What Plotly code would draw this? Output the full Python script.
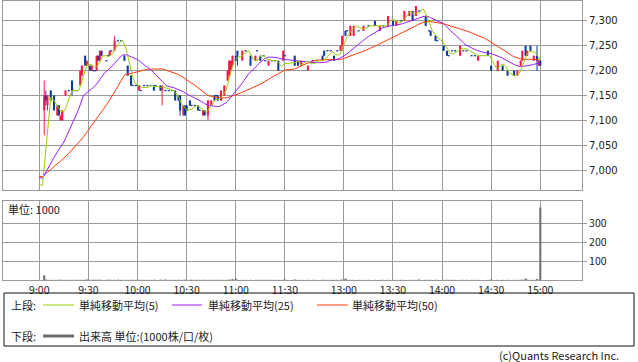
import plotly.graph_objects as go
import pandas as pd

# ---------------- data ----------------
times = [
    "09:03", "09:04", "09:05", "09:07", "09:09", "09:11", "09:12", "09:13", "09:14", "09:16",
    "09:18", "09:20", "09:21", "09:23", "09:25", "09:26", "09:28", "09:29", "09:31", "09:32",
    "09:33", "09:34", "09:35", "09:36", "09:37", "09:38", "09:41", "09:42", "09:43", "09:44",
    "09:46", "09:48", "09:50", "09:52", "09:54", "09:56", "09:57", "09:59", "10:01", "10:02",
    "10:04", "10:06", "10:08", "10:10", "10:11", "10:14", "10:15", "10:17", "10:19", "10:21",
    "10:23", "10:25", "10:26", "10:28", "10:29", "10:30", "10:32", "10:33", "10:35", "10:37",
    "10:38", "10:40", "10:41", "10:43", "10:45", "10:47", "10:48", "10:49", "10:51", "10:53",
    "10:55", "10:56", "10:57", "10:58", "11:00", "11:01", "11:04", "11:06", "11:09", "11:12",
    "11:13", "11:15", "11:17", "11:18", "11:20", "11:22", "11:24", "11:26", "11:29", "11:30",
    "12:30", "12:32", "12:34", "12:38", "12:41", "12:43", "12:47", "12:48", "12:50", "12:52",
    "12:54", "12:56", "12:58", "12:59", "13:01", "13:02", "13:04", "13:06", "13:09", "13:12",
    "13:15", "13:19", "13:22", "13:24", "13:27", "13:30", "13:32", "13:35", "13:37", "13:40",
    "13:42", "13:44", "13:46", "13:50", "13:52", "13:53", "13:56", "13:57", "14:01", "14:03",
    "14:04", "14:06", "14:08", "14:11", "14:13", "14:15", "14:18", "14:20", "14:22", "14:28",
    "14:30", "14:34", "14:37", "14:40", "14:44", "14:46", "14:48", "14:49", "14:51", "14:52",
    "14:54", "14:56", "14:58", "14:59", "15:00",
]
opens = [
    7120, 7150, 7130, 7160, 7150, 7110, 7130, 7100, 7100, 7150,
    7160, 7180, 7160, 7160, 7170, 7190, 7230, 7210, 7210, 7200,
    7200, 7200, 7200, 7230, 7220, 7240, 7220, 7230, 7230, 7240,
    7240, 7260, 7260, 7230, 7210, 7190, 7170, 7170, 7160, 7160,
    7170, 7170, 7170, 7170, 7170, 7170, 7160, 7160, 7160, 7160,
    7160, 7150, 7150, 7110, 7130, 7130, 7140, 7130, 7130, 7130,
    7120, 7110, 7120, 7110, 7130, 7150, 7150, 7150, 7140, 7150,
    7180, 7190, 7200, 7210, 7230, 7240, 7220, 7240, 7230, 7220,
    7240, 7230, 7230, 7220, 7210, 7220, 7220, 7220, 7220, 7230,
    7230, 7220, 7210, 7200, 7220, 7220, 7230, 7240, 7240, 7240,
    7230, 7240, 7240, 7250, 7280, 7280, 7270, 7270, 7280, 7280,
    7290, 7300, 7280, 7290, 7290, 7300, 7290, 7300, 7300, 7310,
    7320, 7310, 7320, 7310, 7280, 7280, 7270, 7260, 7250, 7240,
    7230, 7240, 7240, 7230, 7240, 7240, 7230, 7230, 7220, 7240,
    7210, 7200, 7210, 7200, 7200, 7190, 7210, 7220, 7250, 7230,
    7250, 7220, 7230, 7210, 7220,
]
highs = [
    7180, 7160, 7150, 7160, 7150, 7130, 7130, 7110, 7120, 7160,
    7160, 7180, 7160, 7160, 7200, 7210, 7230, 7220, 7210, 7210,
    7200, 7200, 7230, 7230, 7240, 7240, 7220, 7230, 7240, 7240,
    7270, 7260, 7260, 7230, 7210, 7190, 7170, 7170, 7170, 7160,
    7170, 7170, 7170, 7170, 7170, 7170, 7170, 7160, 7160, 7160,
    7160, 7150, 7150, 7130, 7130, 7130, 7140, 7130, 7130, 7130,
    7120, 7120, 7120, 7140, 7140, 7150, 7150, 7150, 7160, 7170,
    7200, 7220, 7220, 7230, 7230, 7240, 7240, 7240, 7230, 7230,
    7240, 7230, 7230, 7220, 7220, 7220, 7220, 7220, 7240, 7230,
    7230, 7220, 7220, 7210, 7220, 7220, 7230, 7240, 7240, 7240,
    7230, 7240, 7250, 7270, 7280, 7280, 7290, 7290, 7280, 7290,
    7290, 7300, 7290, 7290, 7310, 7300, 7300, 7300, 7320, 7320,
    7320, 7330, 7320, 7310, 7280, 7280, 7270, 7260, 7250, 7240,
    7230, 7240, 7240, 7250, 7240, 7240, 7230, 7230, 7230, 7240,
    7210, 7220, 7210, 7200, 7200, 7200, 7220, 7240, 7250, 7240,
    7250, 7230, 7250, 7220, 7220,
]
lows = [
    7070, 7130, 7120, 7140, 7120, 7110, 7110, 7100, 7100, 7150,
    7160, 7150, 7160, 7160, 7170, 7190, 7210, 7210, 7200, 7200,
    7200, 7200, 7200, 7220, 7220, 7230, 7220, 7230, 7230, 7240,
    7240, 7260, 7260, 7220, 7190, 7170, 7170, 7170, 7160, 7160,
    7170, 7170, 7170, 7160, 7170, 7160, 7130, 7160, 7160, 7160,
    7140, 7140, 7110, 7110, 7110, 7120, 7130, 7130, 7130, 7120,
    7120, 7110, 7110, 7100, 7130, 7140, 7150, 7140, 7140, 7150,
    7180, 7190, 7200, 7210, 7220, 7210, 7220, 7240, 7210, 7220,
    7240, 7220, 7230, 7220, 7210, 7220, 7220, 7200, 7220, 7230,
    7210, 7210, 7210, 7200, 7220, 7220, 7220, 7230, 7240, 7240,
    7220, 7240, 7240, 7240, 7270, 7280, 7270, 7270, 7280, 7280,
    7290, 7290, 7280, 7290, 7290, 7290, 7290, 7300, 7300, 7310,
    7300, 7310, 7320, 7290, 7280, 7270, 7260, 7260, 7240, 7230,
    7230, 7240, 7240, 7230, 7240, 7240, 7230, 7230, 7220, 7230,
    7200, 7200, 7200, 7190, 7190, 7190, 7210, 7220, 7230, 7230,
    7240, 7220, 7200, 7210, 7210,
]
closes = [
    7150, 7140, 7150, 7140, 7120, 7130, 7110, 7110, 7120, 7160,
    7160, 7160, 7160, 7160, 7200, 7210, 7210, 7220, 7200, 7210,
    7200, 7200, 7230, 7220, 7240, 7230, 7220, 7230, 7240, 7240,
    7260, 7260, 7260, 7220, 7190, 7170, 7170, 7170, 7170, 7160,
    7170, 7170, 7170, 7160, 7170, 7160, 7170, 7160, 7160, 7160,
    7140, 7140, 7120, 7130, 7110, 7120, 7130, 7130, 7130, 7120,
    7120, 7120, 7110, 7140, 7140, 7140, 7150, 7140, 7160, 7170,
    7200, 7220, 7220, 7230, 7220, 7230, 7240, 7240, 7210, 7230,
    7240, 7220, 7230, 7220, 7220, 7220, 7220, 7200, 7240, 7230,
    7210, 7210, 7220, 7210, 7220, 7220, 7220, 7230, 7240, 7240,
    7220, 7240, 7250, 7270, 7270, 7280, 7290, 7290, 7280, 7290,
    7290, 7290, 7290, 7290, 7310, 7290, 7300, 7300, 7320, 7320,
    7300, 7330, 7320, 7290, 7280, 7270, 7260, 7260, 7240, 7230,
    7230, 7240, 7240, 7250, 7240, 7240, 7230, 7230, 7230, 7230,
    7200, 7220, 7200, 7190, 7190, 7200, 7220, 7240, 7230, 7240,
    7240, 7230, 7220, 7220, 7210,
]
volumes = [  # unit: 1000
    25, 2, 1, 1, 1, 1, 1, 1, 1, 1,
    1, 1, 1, 1, 1, 1, 1, 3, 1, 1,
    1, 1, 1, 1, 1, 1, 1, 1, 1, 1,
    1, 2, 1, 1, 1, 1, 1, 1, 1, 1,
    1, 1, 1, 1, 1, 1, 1, 3, 1, 1,
    1, 1, 1, 1, 1, 1, 1, 1, 1, 1,
    1, 1, 1, 1, 1, 1, 1, 1, 1, 1,
    1, 2, 1, 5, 8, 1, 1, 1, 1, 1,
    1, 1, 1, 1, 1, 1, 1, 1, 1, 3,
    3, 1, 1, 1, 1, 1, 1, 1, 1, 1,
    1, 1, 1, 2, 8, 1, 1, 1, 1, 1,
    1, 1, 1, 1, 1, 1, 1, 1, 1, 1,
    1, 1, 3, 1, 1, 1, 1, 1, 1, 1,
    1, 1, 1, 1, 1, 1, 1, 1, 1, 1,
    3, 1, 1, 1, 1, 1, 1, 2, 8, 2,
    1, 1, 5, 1, 385,
]
# closes of the previous session that seed the moving averages at 9:00
prev_session_closes = [
    6990, 6990, 6990, 6990, 6990, 6990, 6990, 6990, 6990, 6990,
    6990, 6990, 6990, 6990, 6990, 6990, 6990, 6990, 6990, 6990,
    6990, 6990, 6990, 6990, 6990, 6990, 6990, 6990, 6990, 6990,
    6990, 6990, 6990, 6990, 6990, 6990, 6990, 6990, 6990, 6990,
    6990, 6990, 6990, 6990, 6990, 6970, 6970, 6970, 6970, 6970,
]
x_tick_labels = ["9:00", "9:30", "10:00", "10:30", "11:00", "11:30",
                 "13:00", "13:30", "14:00", "14:30", "15:00"]
price_ticks = [7000, 7050, 7100, 7150, 7200, 7250, 7300]
volume_ticks = [100, 200, 300]
ma_periods = [5, 25, 50]

# ---------------- geometry / styles ----------------
W, H = 638, 362
ML, MR, MT, MB = 3, 56, 1, 82
PW, PH = W - ML - MR, H - MT - MB

def px_x(px):
    return (px - ML) / PW

def px_y(py):
    return (H - MB - py) / PH

def axis_pos(t):
    """Session time -> axis position (lunch break shortened)."""
    h, m = map(int, t.split(":"))
    mins = (h - 9) * 60 + m
    return mins if mins <= 150 else mins - 54

RED, BLUE = "#f5164a", "#0a3a9c"
C_MA = {5: "#99cc00", 25: "#9a1cf5", 50: "#ff3a00"}
GRID = "#9a9a9a"
TXT = "#222222"

pos = [axis_pos(t) for t in times]

# moving averages on the one-minute session grid
grid_minutes = list(range(0, 151)) + list(range(210, 361))
grid_times = [f"{9 + m // 60}:{m % 60:02d}" for m in grid_minutes]
grid_pos = [axis_pos(t) for t in grid_times]
close_by_pos = dict(zip(pos, closes))
filled, last = [], prev_session_closes[-1]
for p in grid_pos:
    last = close_by_pos.get(p, last)
    filled.append(last)
series = pd.Series(prev_session_closes + filled, dtype=float)
n_prev = len(prev_session_closes)
ma = {k: series.rolling(k).mean().iloc[n_prev:].tolist() for k in ma_periods}

# candle pieces
MIN_BODY = 2.6
body_base, body_h, body_col = [], [], []
for o, c in zip(opens, closes):
    col = RED if c > o else BLUE
    lo, hi = min(o, c), max(o, c)
    if hi - lo < MIN_BODY:
        mid = (hi + lo) / 2
        lo, hi = mid - MIN_BODY / 2, mid + MIN_BODY / 2
    body_base.append(lo)
    body_h.append(hi - lo)
    body_col.append(col)
wick_h = [h - l for h, l in zip(highs, lows)]

fig = go.Figure()
fig.add_trace(go.Bar(x=pos, y=wick_h, base=lows, width=0.6,
                     marker=dict(color=body_col, line=dict(width=0)),
                     xaxis="x", yaxis="y", hoverinfo="skip"))
fig.add_trace(go.Bar(x=pos, y=body_h, base=body_base, width=1.25,
                     marker=dict(color=body_col, line=dict(width=0)),
                     xaxis="x", yaxis="y", hoverinfo="skip"))
for k in [50, 25, 5]:
    fig.add_trace(go.Scatter(x=grid_pos, y=ma[k], mode="lines",
                             line=dict(color=C_MA[k], width=1),
                             xaxis="x", yaxis="y", hoverinfo="skip"))
fig.add_trace(go.Bar(x=pos, y=volumes, width=1.25,
                     marker=dict(color="#6e6e6e", line=dict(width=0)),
                     xaxis="x2", yaxis="y2", hoverinfo="skip"))

# x range so that 9:00 / 15:00 land on their pixel columns
scale = (540.3 - 39.3) / (axis_pos("15:00") - axis_pos("9:00"))
r0 = -(39.3 - ML) / scale
r1 = r0 + PW / scale
x_tick_vals = [axis_pos(t) for t in x_tick_labels]

common_x = dict(range=[r0, r1], tickvals=x_tick_vals, showgrid=True, gridcolor=GRID,
                gridwidth=1, showline=True, linecolor=GRID, linewidth=1, mirror=True,
                zeroline=False, fixedrange=True, automargin=False)
common_y = dict(side="right", showgrid=True, gridcolor=GRID, gridwidth=1, showline=True,
                linecolor=GRID, linewidth=1, mirror=True, zeroline=False,
                ticks="outside", ticklen=4, tickcolor=GRID, automargin=False,
                fixedrange=True)

fig.update_layout(
    width=W, height=H, margin=dict(l=ML, r=MR, t=MT, b=MB, autoexpand=False),
    paper_bgcolor="white", plot_bgcolor="white", showlegend=False, barmode="overlay",
    xaxis=dict(**common_x, anchor="y", showticklabels=False, ticks=""),
    xaxis2=dict(**common_x, anchor="y2", matches="x", ticktext=x_tick_labels,
                ticks="",
                tickfont=dict(family="Noto Sans CJK JP", size=10.5, color=TXT)),
    yaxis=dict(**common_y, domain=[px_y(190), px_y(1)], range=[6960, 7340], anchor="x",
               tickvals=price_ticks, tickformat=",",
               tickfont=dict(family="DejaVu Sans", size=10, color=TXT)),
    yaxis2=dict(**common_y, domain=[0, px_y(201)], range=[0, 420], anchor="x2",
                tickvals=volume_ticks,
                tickfont=dict(family="Noto Sans CJK JP", size=10.5, color=TXT)),
)

# ---------------- texts and legend box ----------------
JP = dict(family="Noto Sans CJK JP", size=11, color=TXT)

def note(text, px, py, anchor="left"):
    fig.add_annotation(text=text, x=px_x(px), y=px_y(py), xref="paper", yref="paper",
                       xanchor=anchor, yanchor="middle", showarrow=False, font=JP,
                       borderpad=0)

note("単位: 1000", 7, 209)
note("上段:", 10, 305)
note("単純移動平均(5)", 78, 305)
note("単純移動平均(25)", 207, 305)
note("単純移動平均(50)", 351, 305)
note("下段:", 10, 336)
note("出来高 単位:(1000株/口/枚)", 78, 336)
note("(c)Quants Research Inc.", 620, 355, anchor="right")

fig.add_shape(type="rect", xref="paper", yref="paper",
              x0=px_x(4), x1=px_x(634), y0=px_y(346), y1=px_y(293),
              line=dict(color="#111111", width=1), fillcolor="rgba(0,0,0,0)")
for (xa, xb, py, col, lw) in [(43, 74, 305, C_MA[5], 1), (172, 202, 305, C_MA[25], 1),
                              (317, 348, 305, C_MA[50], 1), (43, 74, 336, "#6e6e6e", 3)]:
    fig.add_shape(type="line", xref="paper", yref="paper",
                  x0=px_x(xa), x1=px_x(xb), y0=px_y(py), y1=px_y(py),
                  line=dict(color=col, width=lw))

fig.write_html("out.html",
               config={"displayModeBar": False, "staticPlot": True},
               post_script="document.body.style.margin='0px';"
                           "document.body.style.overflow='hidden';")
